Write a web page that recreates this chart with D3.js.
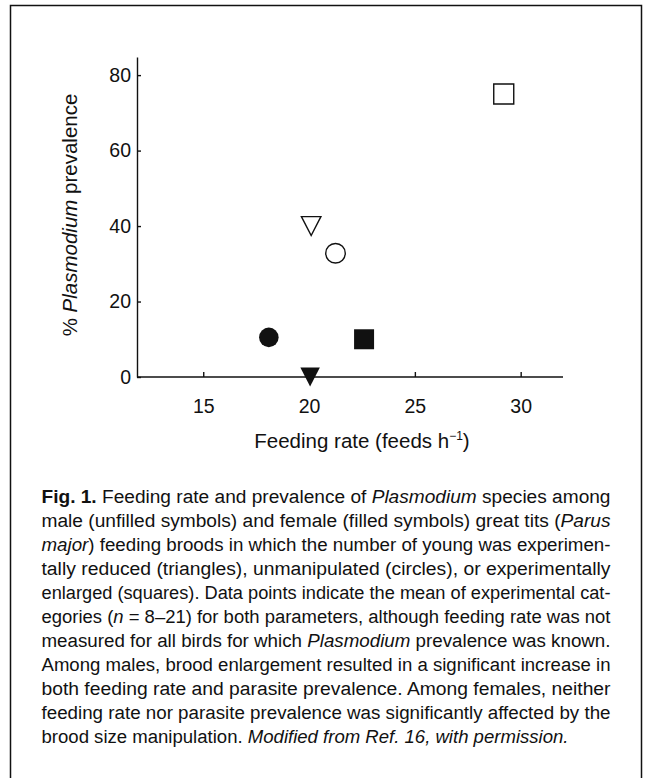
<!DOCTYPE html>
<html>
<head>
<meta charset="utf-8">
<script src="https://cdn.jsdelivr.net/npm/d3@7"></script>
<style>
  html, body { margin: 0; padding: 0; background: #fff; }
  svg { display: block; }
  .axis path, .axis line { stroke: #111; stroke-width: 1.4; }
  .axis text { font-family: "Liberation Sans", Arial, sans-serif; font-size: 19.5px; fill: #111; }
  .title { font-family: "Liberation Sans", Arial, sans-serif; font-size: 20.5px; fill: #111; }
  .caption { font-family: "Liberation Sans Narrow", "Arial Narrow", "Liberation Sans", sans-serif; font-size: 18px; fill: #111; }
</style>
</head>
<body>
<div class="chart-area"></div>
<script>
// brood manipulation categories, one point per sex
var categories = ["reduced", "unmanipulated", "enlarged"];
var maleFeeding = [20.1, 21.25, 29.2];
var malePrevalence = [40, 32.8, 75];
var femaleFeeding = [20.05, 18.1, 22.6];
var femalePrevalence = [0, 10.5, 10];

var xTicks = [15, 20, 25, 30];
var yTicks = [0, 20, 40, 60, 80];

var captionLines = [
  [["b", "Fig. 1."], ["", " Feeding rate and prevalence of "], ["i", "Plasmodium"], ["", " species among"]],
  [["", "male (unfilled symbols) and female (filled symbols) great tits ("], ["i", "Parus"]],
  [["i", "major"], ["", ") feeding broods in which the number of young was experimen-"]],
  [["", "tally reduced (triangles), unmanipulated (circles), or experimentally"]],
  [["", "enlarged (squares). Data points indicate the mean of experimental cat-"]],
  [["", "egories ("], ["i", "n"], ["", " = 8\u201321) for both parameters, although feeding rate was not"]],
  [["", "measured for all birds for which "], ["i", "Plasmodium"], ["", " prevalence was known."]],
  [["", "Among males, brood enlargement resulted in a significant increase in"]],
  [["", "both feeding rate and parasite prevalence. Among females, neither"]],
  [["", "feeding rate nor parasite prevalence was significantly affected by the"]],
  [["", "brood size manipulation. "], ["i", "Modified from Ref. 16, with permission."]]
];

var width = 647,
    height = 778;

var svg = d3.select(".chart-area")
            .append("svg")
            .attr("width", width)
            .attr("height", height);

// frame around figure + caption (open at the bottom)
svg.append("path")
   .attr("d", "M10.5,778 V5.5 H641.5 V778")
   .attr("fill", "none")
   .attr("stroke", "#111")
   .attr("stroke-width", 1.5);

var x = d3.scaleLinear().domain([11.87, 32]).range([137, 563]);
var y = d3.scaleLinear().domain([0, 84.8]).range([377, 57]);

svg.append("g")
   .attr("class", "axis")
   .attr("transform", "translate(0,377)")
   .call(d3.axisBottom(x).tickValues(xTicks).tickSizeInner(-5).tickSizeOuter(0).tickPadding(22))
   .call(function(g) { g.select(".domain").attr("d", "M137,0H563"); });

svg.append("g")
   .attr("class", "axis")
   .attr("transform", "translate(137,0)")
   .call(d3.axisLeft(y).tickValues(yTicks).tickSizeInner(-4).tickSizeOuter(0).tickPadding(6));

svg.selectAll(".axis text").attr("fill", "#111");

var xt = svg.append("text")
   .attr("class", "title")
   .attr("x", 362)
   .attr("y", 448)
   .attr("text-anchor", "middle");
xt.append("tspan").text("Feeding rate (feeds h");
xt.append("tspan").attr("font-size", "12px").attr("dy", -8).text("\u22121");
xt.append("tspan").attr("dy", 8).text(")");

var yt = svg.append("text")
   .attr("class", "title")
   .attr("transform", "translate(77,215) rotate(-90)")
   .attr("text-anchor", "middle");
yt.append("tspan").text("% ");
yt.append("tspan").attr("font-style", "italic").text("Plasmodium");
yt.append("tspan").text(" prevalence");

// downward triangle centred on its bounding box
var triangleDown = {
  draw: function(context, size) {
    var w = Math.sqrt(size), h = w * 0.97;
    context.moveTo(-w / 2, -h / 2);
    context.lineTo(w / 2, -h / 2);
    context.lineTo(0, h / 2);
    context.closePath();
  }
};
var shapeOf = { reduced: triangleDown, unmanipulated: d3.symbolCircle, enlarged: d3.symbolSquare };
var sizeOf = { reduced: 380, unmanipulated: 300, enlarged: 400 };

var points = [];
categories.forEach(function(c, i) {
  points.push({ cat: c, filled: false, fx: maleFeeding[i], py: malePrevalence[i] });
  points.push({ cat: c, filled: true, fx: femaleFeeding[i], py: femalePrevalence[i] });
});

svg.selectAll(".pt")
   .data(points)
   .enter()
   .append("path")
   .attr("class", "pt")
   .attr("transform", function(d) { return "translate(" + x(d.fx) + "," + y(d.py) + ")"; })
   .attr("d", function(d) { return d3.symbol().type(shapeOf[d.cat]).size(sizeOf[d.cat])(); })
   .attr("fill", function(d) { return d.filled ? "#111" : "#fff"; })
   .attr("stroke", "#111")
   .attr("stroke-width", function(d) { return d.filled ? 0 : 1.4; });

// caption, justified by forcing each line's length
var capTop = 503, capStep = 24, capLeft = 41.5;
var capWidths = captionLines.map(function(l, i) { return i < captionLines.length - 1 ? 569 : 527; });

svg.selectAll(".caption")
   .data(captionLines)
   .enter()
   .append("text")
   .attr("class", "caption")
   .attr("x", capLeft)
   .attr("y", function(d, i) { return capTop + i * capStep; })
   .attr("textLength", function(d, i) { return capWidths[i]; })
   .attr("lengthAdjust", "spacingAndGlyphs")
   .each(function(d) {
     var t = d3.select(this);
     d.forEach(function(seg) {
       var s = t.append("tspan").text(seg[1]);
       if (seg[0] == "i") s.attr("font-style", "italic");
       if (seg[0] == "b") s.attr("font-weight", "bold");
     });
   });
</script>
</body>
</html>
